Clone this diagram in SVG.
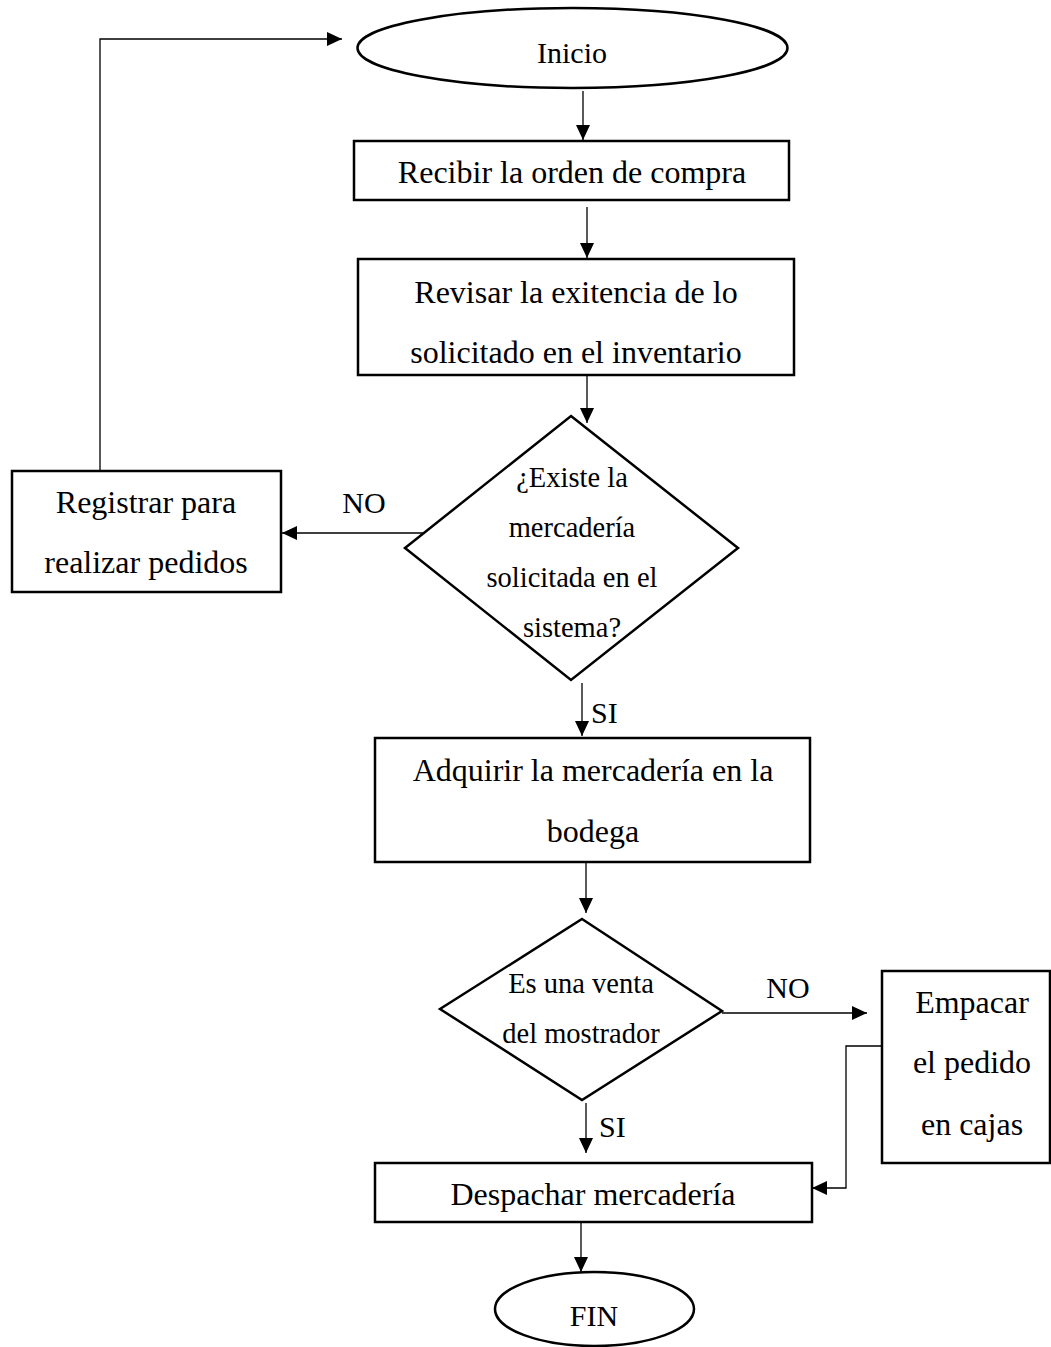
<svg xmlns="http://www.w3.org/2000/svg" width="1051" height="1347" viewBox="0 0 1051 1347">
<style>
  .shape { fill: #ffffff; stroke: #000000; stroke-width: 2.5; }
  .conn { fill: none; stroke: #000000; stroke-width: 1.3; }
  .t { font-family: "Liberation Serif", "Times New Roman", serif; fill: #000000; text-anchor: middle; }
  .box { font-size: 32px; }
  .dia { font-size: 28.5px; }
  .term { font-size: 30px; }
  .lbl { font-family: "Liberation Serif", "Times New Roman", serif; fill: #000000; font-size: 30px; }
</style>
<defs>
  <marker id="arrow" markerUnits="userSpaceOnUse" viewBox="0 0 15 14" refX="15" refY="7" markerWidth="15" markerHeight="14" orient="auto">
    <path d="M0,0 L15,7 L0,14 z" fill="#000000"/>
  </marker>
</defs>
<rect width="1051" height="1347" fill="#ffffff"/>

<g id="connectors">
  <path class="conn" d="M100,471 V39 H342" marker-end="url(#arrow)"/>
  <path class="conn" d="M583,91 V140" marker-end="url(#arrow)"/>
  <path class="conn" d="M587,207 V258" marker-end="url(#arrow)"/>
  <path class="conn" d="M587,375 V423" marker-end="url(#arrow)"/>
  <path class="conn" d="M441,533 H282" marker-end="url(#arrow)"/>
  <path class="conn" d="M582,683 V736" marker-end="url(#arrow)"/>
  <path class="conn" d="M586,862 V913" marker-end="url(#arrow)"/>
  <path class="conn" d="M722,1013 H867" marker-end="url(#arrow)"/>
  <path class="conn" d="M586,1103 V1153" marker-end="url(#arrow)"/>
  <path class="conn" d="M882,1046 H846 V1188 H812" marker-end="url(#arrow)"/>
  <path class="conn" d="M581,1222 V1272" marker-end="url(#arrow)"/>
  <text class="lbl" x="364" y="513" text-anchor="middle">NO</text>
  <text class="lbl" x="591" y="723">SI</text>
  <text class="lbl" x="788" y="998" text-anchor="middle">NO</text>
  <text class="lbl" x="599" y="1137">SI</text>
</g>

<g id="inicio">
  <ellipse class="shape" cx="572.5" cy="48" rx="215" ry="40"/>
  <text class="t term" x="572" y="63">Inicio</text>
</g>

<g id="recibir">
  <rect class="shape" x="354" y="141" width="435" height="59"/>
  <text class="t box" x="572" y="183">Recibir la orden de compra</text>
</g>

<g id="revisar">
  <rect class="shape" x="358" y="259" width="436" height="116"/>
  <text class="t box" x="576" y="303">Revisar la exitencia de lo</text>
  <text class="t box" x="576" y="363">solicitado en el inventario</text>
</g>

<g id="existe">
  <polygon class="shape" points="571,416 738,548 571,680 405,548"/>
  <text class="t dia" x="572" y="487">¿Existe la</text>
  <text class="t dia" x="572" y="537">mercadería</text>
  <text class="t dia" x="572" y="587">solicitada en el</text>
  <text class="t dia" x="572" y="637">sistema?</text>
</g>

<g id="registrar">
  <rect class="shape" x="12" y="471" width="269" height="121"/>
  <text class="t box" x="146" y="513">Registrar para</text>
  <text class="t box" x="146" y="573">realizar pedidos</text>
</g>

<g id="adquirir">
  <rect class="shape" x="375" y="738" width="435" height="124"/>
  <text class="t box" x="593" y="781">Adquirir la mercadería en la</text>
  <text class="t box" x="593" y="842">bodega</text>
</g>

<g id="venta">
  <polygon class="shape" points="582,919 722,1011 582,1100 440,1009"/>
  <text class="t dia" x="581" y="993">Es una venta</text>
  <text class="t dia" x="581" y="1043">del mostrador</text>
</g>

<g id="empacar">
  <rect class="shape" x="882" y="971" width="168" height="192"/>
  <text class="t box" x="972" y="1013">Empacar</text>
  <text class="t box" x="972" y="1073">el pedido</text>
  <text class="t box" x="972" y="1135">en cajas</text>
</g>

<g id="despachar">
  <rect class="shape" x="375" y="1163" width="437" height="59"/>
  <text class="t box" x="593" y="1205">Despachar mercadería</text>
</g>

<g id="fin">
  <ellipse class="shape" cx="594.5" cy="1309" rx="99.5" ry="37"/>
  <text class="t term" x="594" y="1326">FIN</text>
</g>
</svg>
